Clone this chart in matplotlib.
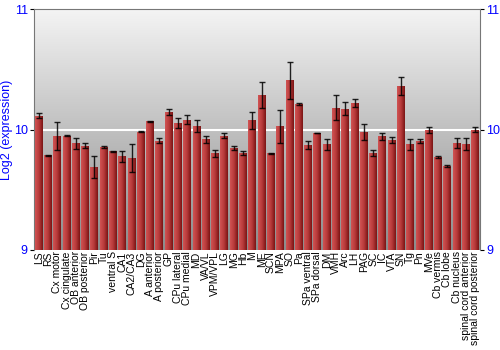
import numpy as np
import matplotlib
matplotlib.use("Agg")
import matplotlib.pyplot as plt
from matplotlib.colors import LinearSegmentedColormap

plt.rcParams["font.family"] = ["Liberation Sans", "DejaVu Sans"]

regioes = ["LS", "RS", "Cx motor", "Cx cingulate", "OB anterior", "OB posterior",
           "Pir", "Tu", "ventral S", "CA1", "CA2/CA3", "DG", "A anterior",
           "A posterior", "GP", "CPu lateral", "CPu medial", "MD", "VA/VL",
           "VPM/VPL", "LG", "MG", "Hb", "M", "ME", "SCN", "MPA", "SO", "Pa",
           "SPa ventral", "SPa dorsal", "DM", "VMH", "Arc", "LH", "PAG", "SC",
           "IC", "VTA", "SN", "Tg", "Pn", "MVe", "Cb vermis", "Cb lobe",
           "Cb nucleus", "spinal cord anterior", "spinal cord posterior"]

valores = [10.116, 9.787, 9.948, 9.948, 9.884, 9.865, 9.688, 9.854, 9.818,
           9.776, 9.765, 9.983, 10.069, 9.906, 10.146, 10.052, 10.083, 10.030,
           9.917, 9.801, 9.950, 9.845, 9.804, 10.075, 10.285, 9.801, 10.025,
           10.409, 10.213, 9.870, 9.970, 9.876, 10.182, 10.174, 10.221, 9.978,
           9.804, 9.942, 9.912, 10.359, 9.876, 9.903, 9.994, 9.773, 9.696,
           9.890, 9.881, 10.000]

erros = [0.020, 0.005, 0.116, 0.006, 0.048, 0.020, 0.093, 0.011, 0.003,
         0.044, 0.115, 0.003, 0.005, 0.020, 0.025, 0.043, 0.036, 0.048,
         0.030, 0.026, 0.022, 0.017, 0.019, 0.072, 0.106, 0.005, 0.140,
         0.155, 0.006, 0.036, 0.002, 0.043, 0.102, 0.055, 0.036, 0.064,
         0.028, 0.029, 0.026, 0.075, 0.043, 0.017, 0.023, 0.007, 0.006,
         0.040, 0.050, 0.020]

azul = "#0000ff"

fig = plt.figure(figsize=(5, 3.5), dpi=100)
ax = fig.add_axes([0.068, 0.286, 0.892, 0.688])

ax.set_xlim(-0.5, len(regioes) - 0.5)
ax.set_ylim(9, 11)

# fundo em degrade
fundo = LinearSegmentedColormap.from_list("fundo", ["#8c8c8c", "#f4f4f4"])
grad = np.linspace(0, 1, 256).reshape(-1, 1)
ax.imshow(grad, cmap=fundo, aspect="auto", origin="lower",
          extent=[-0.5, len(regioes) - 0.5, 9, 11], zorder=0)
ax.axhline(10, color="white", lw=1.5, zorder=1)

# barras com degrade horizontal
cor_barra = LinearSegmentedColormap.from_list("barra", ["#d05454", "#b83a3a", "#7a1414"])
grad_h = np.linspace(0, 1, 64).reshape(1, -1)
x = np.arange(len(regioes))
largura = 0.86
barras = ax.bar(x, np.array(valores) - 9, bottom=9, width=largura,
                color="#a52a2a", zorder=2)
for b in barras:
    x0, y0 = b.get_x(), b.get_y()
    im = ax.imshow(grad_h, cmap=cor_barra, aspect="auto",
                   extent=[x0, x0 + b.get_width(), y0, y0 + b.get_height()], zorder=3)
    im.set_clip_path(b)

ax.errorbar(x, valores, yerr=erros, fmt="none", ecolor="black", elinewidth=1,
            capsize=2, capthick=1, alpha=0.85, zorder=4)

ax.set_xlim(-0.5, len(regioes) - 0.5)
ax.set_ylim(9, 11)

ax.set_xticks(x)
ax.set_xticklabels(regioes, rotation=90, fontsize=7.5)
ax.tick_params(axis="x", length=0, pad=1)
ax.set_yticks([9, 10, 11])
ax.tick_params(axis="y", colors="black", labelcolor=azul, labelsize=9,
               length=3, left=True, right=True, labelleft=True, labelright=True, pad=1.5)
ax.set_ylabel("Log2 (expression)", color=azul, fontsize=9)
ax.yaxis.set_label_coords(-0.046, 0.5)

for lado in ["left", "right", "top"]:
    ax.spines[lado].set_color("#777777")
ax.spines["bottom"].set_visible(False)

fig.savefig("out.png", dpi=100)
